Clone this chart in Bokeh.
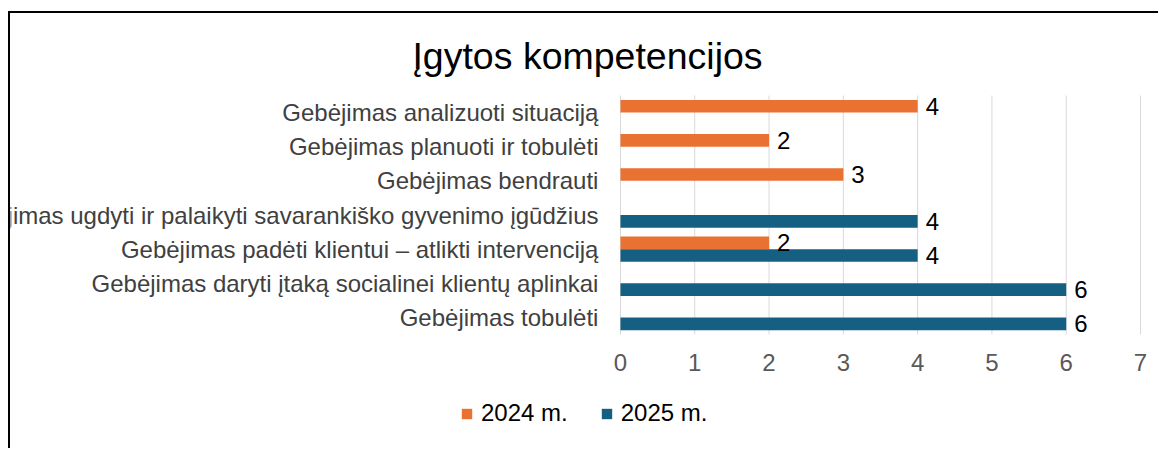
from bokeh.plotting import figure
from bokeh.models import (ColumnDataSource, Range1d, FixedTicker, LabelSet, Label,
                          Legend, LegendItem)
from bokeh.transform import dodge
from bokeh.core.properties import value
from bokeh.embed import file_html
from bokeh.resources import INLINE

# ---- data ----
title_text = "Įgytos kompetencijos"
categories = [
    "Gebėjimas analizuoti situaciją",
    "Gebėjimas planuoti ir tobulėti",
    "Gebėjimas bendrauti",
    "Gebėjimas ugdyti ir palaikyti savarankiško gyvenimo įgūdžius",
    "Gebėjimas padėti klientui – atlikti intervenciją",
    "Gebėjimas daryti įtaką socialinei klientų aplinkai",
    "Gebėjimas tobulėti",
]
values_2024 = [4, 2, 3, None, 2, None, None]
values_2025 = [None, None, None, 4, 4, 6, 6]
series_names = ["2024 m.", "2025 m."]
x_ticks = [0, 1, 2, 3, 4, 5, 6, 7]

FONT = "Liberation Sans"
ORANGE = "#E97132"
BLUE = "#156082"
N = len(categories)

# category slot centres: first category at the top
cat_pos = [N - 0.5 - i for i in range(N)]


def series_source(vals):
    pos = [y for y, v in zip(cat_pos, vals) if v is not None]
    vs = [v for v in vals if v is not None]
    return ColumnDataSource(dict(pos=pos, val=vs, lbl=[str(v) for v in vs]))


src24 = series_source(values_2024)
src25 = series_source(values_2025)
cat_src = ColumnDataSource(dict(cat=categories, pos=cat_pos, x=[0] * N))
grid_src = ColumnDataSource(dict(x=x_ticks, y0=[0] * len(x_ticks),
                                 y1=[N] * len(x_ticks)))

# the plot frame covers the whole chart area; value axis 0..7 sits on the right,
# category names left of 0, title above and legend below inside the frame
p = figure(
    width=1150, height=437,
    x_range=Range1d(-8.21, 7.242),
    y_range=Range1d(-3.339, 9.402),
    output_backend="svg", toolbar_location=None,
    min_border_left=2, min_border_right=0,
    min_border_top=2, min_border_bottom=0,
)
p.styles = {
    "margin-left": "8px",
    "margin-top": "11px",
    "background": ("linear-gradient(#000,#000) 0px 0px / 2px 100% no-repeat, "
                   "linear-gradient(#000,#000) 0px 0px / 100% 2px no-repeat"),
}
p.outline_line_color = None
p.background_fill_alpha = 0
p.border_fill_alpha = 0
p.xgrid.visible = False
p.ygrid.visible = False
p.yaxis.visible = False

# vertical gridlines over the bar area
p.segment(x0="x", x1="x", y0="y0", y1="y1", source=grid_src,
          line_color="#D9D9D9", line_width=1)

off = 0.186
h = 0.372
r24 = p.hbar(y=dodge("pos", off), right="val", left=0, height=h,
             source=src24, fill_color=ORANGE, line_color=None)
r25 = p.hbar(y=dodge("pos", -off), right="val", left=0, height=h,
             source=src25, fill_color=BLUE, line_color=None)

# value labels
for src, o in ((src24, off), (src25, -off)):
    p.add_layout(LabelSet(x="val", y=dodge("pos", o), text="lbl",
                          source=src, x_offset=8, text_align="left",
                          text_baseline="middle", text_font=value(FONT),
                          text_font_size="24px", text_color="black"))

# category names
p.add_layout(LabelSet(x="x", y="pos", text="cat", source=cat_src, x_offset=-22,
                      text_align="right", text_baseline="middle",
                      text_font=value(FONT), text_font_size="24px",
                      text_color="#404040"))

# x axis drawn along the bottom of the bar area
p.xaxis.fixed_location = 0
p.xaxis.ticker = FixedTicker(ticks=x_ticks)
p.xaxis.axis_line_color = None
p.xaxis.major_tick_line_color = None
p.xaxis.minor_tick_line_color = None
p.xaxis.major_tick_out = 0
p.xaxis.major_tick_in = 0
p.xaxis.major_label_standoff = 19
p.xaxis.major_label_text_font = FONT
p.xaxis.major_label_text_font_size = "24px"
p.xaxis.major_label_text_color = "#595959"

# title
p.add_layout(Label(x=577, y=393, x_units="screen", y_units="screen", text=title_text,
                   text_align="center", text_baseline="alphabetic",
                   text_font=FONT, text_font_size="37.5px",
                   text_color="black"))

# legend
legend = Legend(items=[LegendItem(label=series_names[0], renderers=[r24]),
                       LegendItem(label=series_names[1], renderers=[r25])],
                location=(450, 21), orientation="horizontal",
                glyph_width=13, glyph_height=13, label_standoff=8, spacing=32,
                padding=0, margin=0, border_line_color=None,
                background_fill_alpha=0, label_text_font=FONT,
                label_text_font_size="24px", label_text_color="black")
p.add_layout(legend)

open("out.html", "w").write(file_html(p, INLINE))
